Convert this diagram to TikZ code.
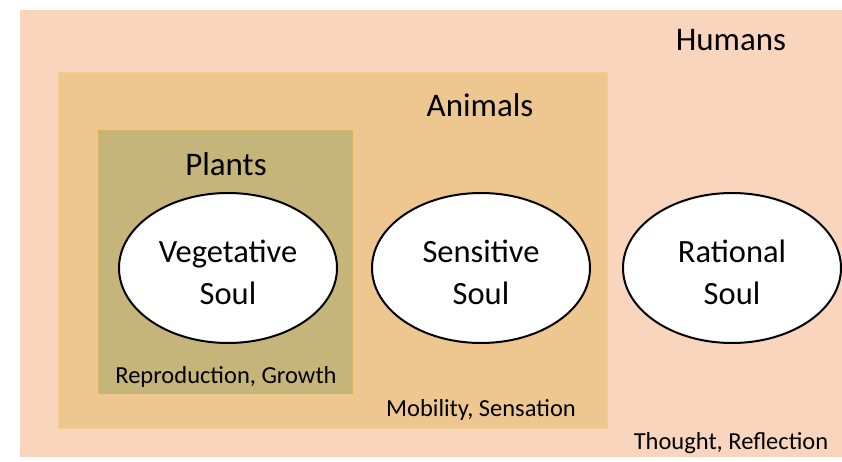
\documentclass[tikz,border=0pt]{standalone}
\usepackage{fontspec}
\setmainfont{Carlito}
\usetikzlibrary{shapes.geometric}
\definecolor{humanbg}{HTML}{F8D5BC}
\definecolor{animalbg}{HTML}{EDC690}
\definecolor{animalline}{HTML}{F2CF8A}
\definecolor{plantbg}{HTML}{C6B57A}
\definecolor{plantline}{HTML}{D6B35C}
\newcommand{\soultext}[2]{\raisebox{-7pt}[\height][\depth]{\begin{tabular}{@{}c@{}}#1\\#2\end{tabular}}}
\begin{document}
\begin{tikzpicture}[x=1pt,y=-1pt,
  soul/.style={ellipse,draw=black,line width=2pt,fill=white,minimum width=218pt,minimum height=150pt,font=\fontsize{32.5}{42}\selectfont,inner sep=0pt},
  title/.style={font=\fontsize{33}{40}\selectfont,inner sep=0pt},
  sub/.style={font=\fontsize{24.5}{28}\selectfont,inner sep=0pt}]
\useasboundingbox (0,0) rectangle (842,462);
\fill[white] (0,0) rectangle (842,462);
\node[fill=humanbg,minimum width=822pt,minimum height=447pt,anchor=north west,inner sep=0pt] (humans) at (20,10) {};
\node[fill=animalbg,draw=animalline,line width=1pt,minimum width=549pt,minimum height=356pt,anchor=north west,inner sep=0pt] (animals) at (58,72) {};
\node[fill=plantbg,draw=plantline,line width=1pt,minimum width=254pt,minimum height=263pt,anchor=north west,inner sep=0pt] (plants) at (98,130) {};
\node[title] (humanslbl) at (731,40) {Humans};
\node[title] (animalslbl) at (480,105) {Animals};
\node[title] (plantslbl) at (226,164) {Plants};
\node[soul] (veg) at (228,268) {\soultext{Vegetative}{Soul}};
\node[soul] (sens) at (481,268) {\soultext{Sensitive}{Soul}};
\node[soul] (rat) at (732,268) {\soultext{Rational}{Soul}};
\node[sub] (vegsub) at (226,377) {Reproduction, Growth};
\node[sub] (senssub) at (481,410) {Mobility, Sensation};
\node[sub] (ratsub) at (731,443) {Thought, Reflection};
\end{tikzpicture}
\end{document}
